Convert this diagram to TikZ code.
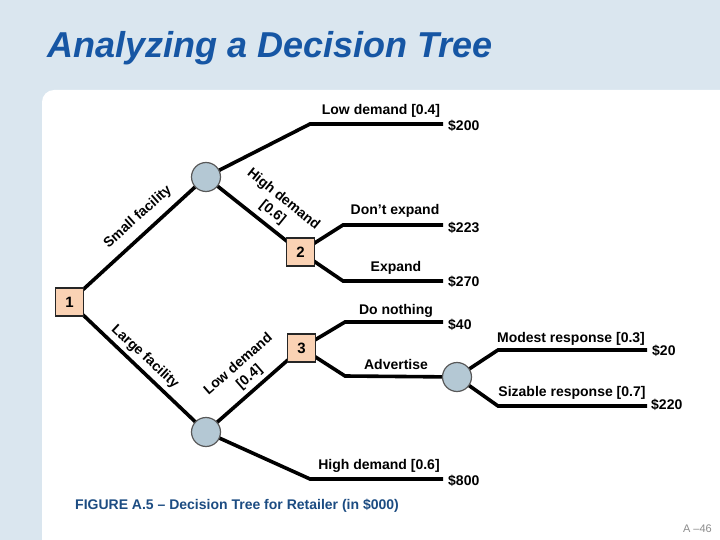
\documentclass[tikz,border=0pt]{standalone}
\usepackage{fontspec}
\setmainfont{Liberation Sans}
\definecolor{bgblue}{RGB}{218,230,239}
\definecolor{titleblue}{RGB}{22,86,164}
\definecolor{capblue}{RGB}{28,76,130}
\definecolor{peach}{RGB}{250,210,180}
\definecolor{chancefill}{RGB}{180,200,212}
\begin{document}
\begin{tikzpicture}[x=1pt,y=-1pt,
  lab/.style={font=\bfseries\fontsize{14}{15}\selectfont, inner sep=0pt},
  rlab/.style={font=\bfseries\fontsize{14}{17}\selectfont, inner sep=0pt, align=center},
  val/.style={font=\bfseries\fontsize{14}{15}\selectfont, inner sep=0pt, anchor=west},
  dec/.style={draw=black!85, line width=1.2pt, fill=peach, minimum size=28pt, inner sep=0pt, font=\bfseries\fontsize{15}{15}\selectfont},
  chance/.style={circle, draw=black!65, fill=chancefill, minimum size=29pt, inner sep=0pt, line width=1.2pt},
  br/.style={line width=3.6pt}
]
\clip (0,0) rectangle (720,540);
\fill[bgblue] (0,0) rectangle (720,540);
\fill[white, rounded corners=12pt] (42,90) rectangle (760,580);

\node[font=\bfseries\itshape\fontsize{36}{36}\selectfont, text=titleblue, anchor=base west, inner sep=0pt] (title) at (47,58) {Analyzing a Decision Tree};

% coordinates
\coordinate (a1) at (310,124);  \coordinate (e1) at (443,124);
\coordinate (a2) at (343,225);  \coordinate (e2) at (443,225);
\coordinate (a3) at (343,281);  \coordinate (e3) at (443,281);
\coordinate (a4) at (345,322);  \coordinate (e4) at (443,322);
\coordinate (a5) at (345,376);
\coordinate (a6) at (498,350);  \coordinate (e6) at (647,350);
\coordinate (a7) at (498,406);  \coordinate (e7) at (647,406);
\coordinate (a8) at (310,479);  \coordinate (e8) at (443,479);

% node positions (drawn later on top)
\coordinate (p1) at (69.5,302);
\coordinate (q1) at (206,177);
\coordinate (p2) at (300.5,252);
\coordinate (q2) at (206,432);
\coordinate (p3) at (301.5,348);
\coordinate (q3) at (457,377);

% branches
\draw[br] (p1) -- (q1);
\draw[br] (p1) -- (q2);
\draw[br] (q1) -- (a1) -- (e1);
\draw[br] (q1) -- (p2);
\draw[br] (p2) -- (a2) -- (e2);
\draw[br] (p2) -- (a3) -- (e3);
\draw[br] (q2) -- (p3);
\draw[br] (q2) -- (a8) -- (e8);
\draw[br] (p3) -- (a4) -- (e4);
\draw[br] (p3) -- (a5) -- (q3);
\draw[br] (q3) -- (a6) -- (e6);
\draw[br] (q3) -- (a7) -- (e7);

% nodes
\node[dec] (n1) at (p1) {1};
\node[chance] (c1) at (q1) {};
\node[dec] (n2) at (p2) {2};
\node[chance] (c2) at (q2) {};
\node[dec] (n3) at (p3) {3};
\node[chance] (c3) at (q3) {};

% labels
\node[lab] (l1) at (381,111) {Low demand [0.4]};
\node[lab] (l2) at (395,211) {Don’t expand};
\node[lab] (l3) at (396,268) {Expand};
\node[lab] (l4) at (396,311) {Do nothing};
\node[lab] (l5) at (396,364) {Advertise};
\node[lab] (l6) at (571,339) {Modest response [0.3]};
\node[lab] (l7) at (572,393) {Sizable response [0.7]};
\node[lab] (l8) at (379,466) {High demand [0.6]};
\node[lab, rotate=42] (l9) at (138,217) {Small facility};
\node[rlab, rotate=-39] (l10) at (278,206) {High demand\\{}[0.6]};
\node[lab, rotate=-43] (l11) at (145,357) {Large facility};
\node[rlab, rotate=41] (l12) at (244,371) {Low demand\\{}[0.4]};

% values
\node[val] (v1) at (448,126) {\$200};
\node[val] (v2) at (448,228) {\$223};
\node[val] (v3) at (448,282) {\$270};
\node[val] (v4) at (448,325) {\$40};
\node[val] (v5) at (652,351) {\$20};
\node[val] (v6) at (651,405) {\$220};
\node[val] (v7) at (448,481) {\$800};

\node[font=\bfseries\fontsize{14}{15}\selectfont, text=capblue, anchor=west, inner sep=0pt] (cap) at (75,506) {FIGURE A.5 – Decision Tree for Retailer (in \$000)};
\node[font=\fontsize{11}{11}\selectfont, text=black!45, anchor=east, inner sep=0pt] (pg) at (712,529) {A –46};
\end{tikzpicture}
\end{document}
